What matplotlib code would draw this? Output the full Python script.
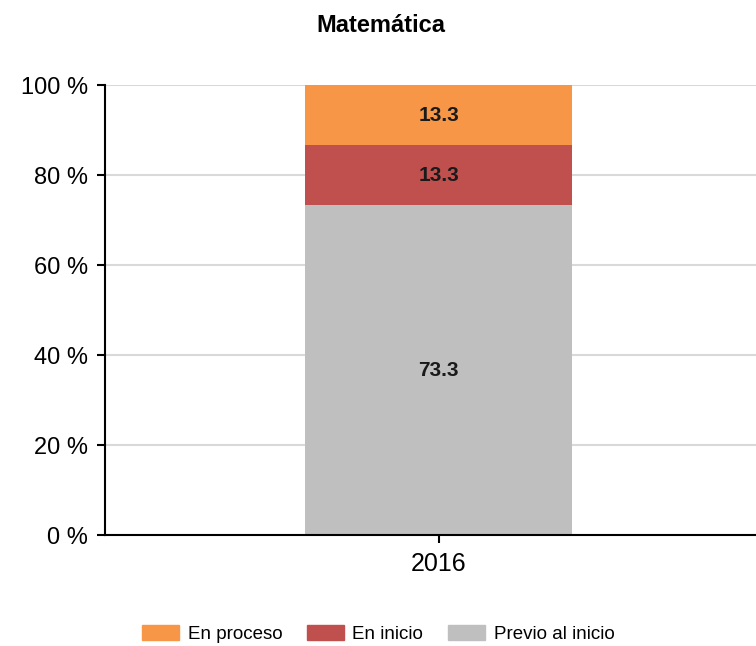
import matplotlib
matplotlib.use('Agg')
import matplotlib.pyplot as plt
from matplotlib.patches import Patch

plt.rcParams['font.family'] = ['Liberation Sans', 'DejaVu Sans']

years = ['2016']
previo = [73.3]
inicio = [13.3]
proceso = [13.3]
yticks = [0, 20, 40, 60, 80, 100]
ytick_labels = ['0 %', '20 %', '40 %', '60 %', '80 %', '100 %']

c_previo = '#BFBFBF'
c_inicio = '#C0504D'
c_proceso = '#F79646'

fig = plt.figure(figsize=(7.56, 6.46), dpi=100)
# plot area runs past the right edge, as in the reference
ax = fig.add_axes([105 / 756, 111 / 646, 667 / 756, 450 / 646])

x = range(len(years))
b1 = ax.bar(x, previo, width=0.4, color=c_previo, zorder=2)
bottom2 = [p for p in previo]
b2 = ax.bar(x, inicio, width=0.4, bottom=bottom2, color=c_inicio, zorder=2)
bottom3 = [p + i for p, i in zip(previo, inicio)]
b3 = ax.bar(x, proceso, width=0.4, bottom=bottom3, color=c_proceso, zorder=2)

for bars in (b1, b2, b3):
    for r in bars:
        ax.text(r.get_x() + r.get_width() / 2, r.get_y() + r.get_height() / 2,
                f'{r.get_height():.1f}', ha='center', va='center',
                fontsize=15, fontweight='bold', color='#1a1a1a', zorder=3)

ax.set_xlim(-0.5, 0.5)
ax.set_ylim(0, 100)
ax.set_yticks(yticks)
ax.set_yticklabels(ytick_labels, fontsize=17)
ax.set_xticks(list(x))
ax.set_xticklabels(years, fontsize=18)
ax.yaxis.grid(True, color='#D9D9D9', linewidth=1.5, zorder=0)
ax.set_axisbelow(True)
for s in ('top', 'right'):
    ax.spines[s].set_visible(False)
for s in ('left', 'bottom'):
    ax.spines[s].set_linewidth(1.5)
ax.tick_params(axis='y', length=6, width=1.5, pad=6)
ax.tick_params(axis='x', length=6, width=1.5, pad=6)

fig.text(381 / 756, 1 - 25 / 646, 'Matemática', ha='center',
         va='center', fontsize=17, fontweight='bold')

handles = [Patch(color=c_proceso, label='En proceso'),
           Patch(color=c_inicio, label='En inicio'),
           Patch(color=c_previo, label='Previo al inicio')]
fig.legend(handles=handles, loc='center', bbox_to_anchor=(378 / 756, 12 / 646),
           ncol=3, frameon=False, fontsize=13.5, handlelength=2.0, handleheight=0.9,
           columnspacing=1.3, handletextpad=0.45)

fig.savefig('out.png', dpi=100)
